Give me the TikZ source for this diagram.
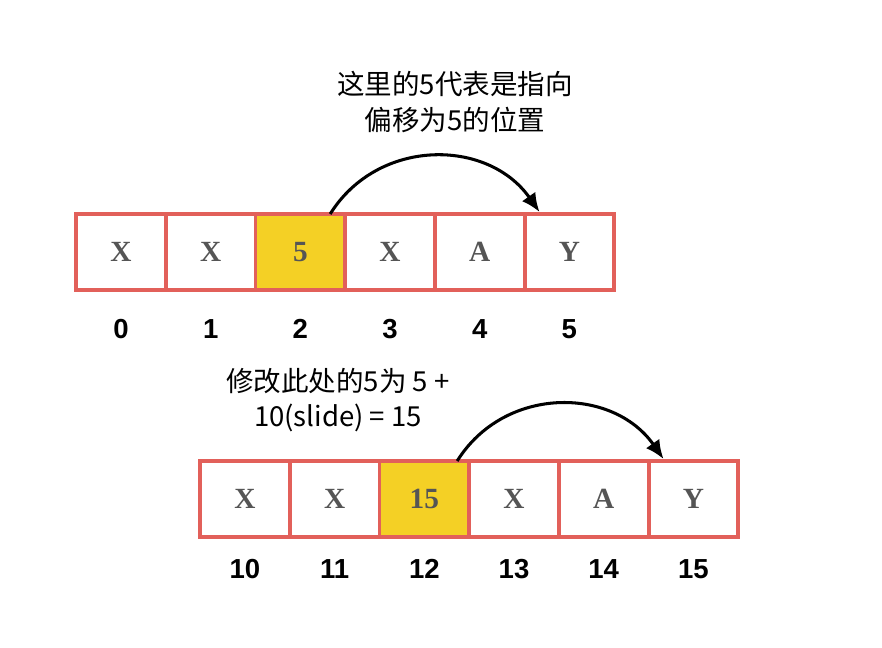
\documentclass[tikz,border=0pt]{standalone}
\usepackage{fontspec}
\usepackage{xcolor}
\usepackage{tikz}
\usetikzlibrary{positioning, calc, arrows.meta}

\newfontfamily\cjk{Noto Sans CJK SC}
\newfontfamily\labelfont{Liberation Sans}
\newfontfamily\cellfont{Liberation Serif}

\definecolor{cellred}{HTML}{E2605A}
\definecolor{cellyellow}{HTML}{F4D025}
\definecolor{cellgrey}{HTML}{555555}

\tikzset{
    cell/.style={draw=cellred, line width=3.4pt, fill=white, outer sep=0pt,
        minimum width=2.69cm, minimum height=2.28cm, inner sep=0pt,
        font=\cellfont\bfseries\fontsize{25}{29}\selectfont, text=cellgrey},
    hotcell/.style={cell, fill=cellyellow},
    idx/.style={font=\labelfont\bfseries\fontsize{23.5}{27}\selectfont},
    note/.style={align=center, font=\cjk\fontsize{23.5}{30}\selectfont},
    jump/.style={line width=2.6pt, -{Latex[length=16pt,width=14pt]}}
}

\begin{document}
\begin{tikzpicture}[x=0.03cm, y=-0.03cm]
        \useasboundingbox (0,0) rectangle (882,648);

        % Upper array (before)
        \node[cell] (t0) at (121,252) {X};
        \node[cell, right=0pt of t0] (t1) {X};
        \node[hotcell, right=0pt of t1] (t2) {5};
        \node[cell, right=0pt of t2] (t3) {X};
        \node[cell, right=0pt of t3] (t4) {A};
        \node[cell, right=0pt of t4] (t5) {Y};

        % Upper offsets
        \node[idx, below=0.75cm of t0] (i0) {0};
        \node[idx, below=0.75cm of t1] (i1) {1};
        \node[idx, below=0.75cm of t2] (i2) {2};
        \node[idx, below=0.75cm of t3] (i3) {3};
        \node[idx, below=0.75cm of t4] (i4) {4};
        \node[idx, below=0.75cm of t5] (i5) {5};

        % Upper pointer and note
        \coordinate (ts) at ($(t2.north east)+(-15,0)$);
        \coordinate (te) at ($(t5.north west)+(15,-2)$);
        \draw[jump] (ts) to[out=58, in=125, looseness=1.1] (te);
        \node[note] (n1) at (455,102) {这里的5代表是指向\\偏移为5的位置};

        % Lower array (after)
        \node[cell] (b0) at (245,499) {X};
        \node[cell, right=0pt of b0] (b1) {X};
        \node[hotcell, right=0pt of b1] (b2) {15};
        \node[cell, right=0pt of b2] (b3) {X};
        \node[cell, right=0pt of b3] (b4) {A};
        \node[cell, right=0pt of b4] (b5) {Y};

        % Lower offsets
        \node[idx, below=0.55cm of b0] (j0) {10};
        \node[idx, below=0.55cm of b1] (j1) {11};
        \node[idx, below=0.55cm of b2] (j2) {12};
        \node[idx, below=0.55cm of b3] (j3) {13};
        \node[idx, below=0.55cm of b4] (j4) {14};
        \node[idx, below=0.55cm of b5] (j5) {15};

        % Lower pointer and note
        \coordinate (bs) at ($(b2.north east)+(-12,0)$);
        \coordinate (be) at ($(b5.north west)+(15,-2)$);
        \draw[jump] (bs) to[out=58, in=125, looseness=1.1] (be);
        \node[note] (n2) at (338,400) {修改此处的5为 5 +\\10(slide) = 15};

    \end{tikzpicture}
\end{document}
